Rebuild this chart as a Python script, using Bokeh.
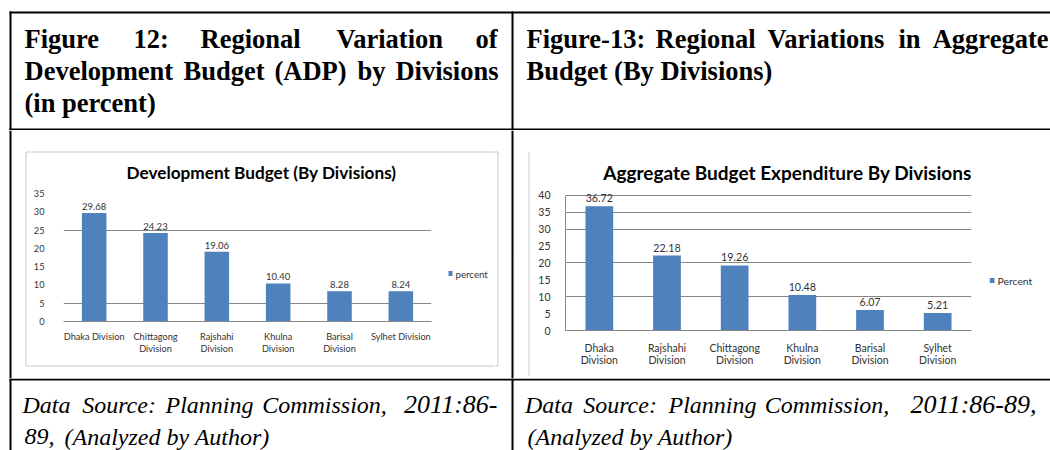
from bokeh.plotting import figure
from bokeh.layouts import row, column
from bokeh.models import Range1d, FactorRange, FixedTicker
from bokeh.core.properties import value
from bokeh.embed import file_html
from bokeh.resources import INLINE

# ---------------- data ----------------
dev_categories = ["Dhaka Division", "Chittagong\nDivision", "Rajshahi\nDivision",
                  "Khulna\nDivision", "Barisal\nDivision", "Sylhet Division"]
dev_percent = [29.68, 24.23, 19.06, 10.40, 8.28, 8.24]
dev_y_ticks = [0, 5, 10, 15, 20, 25, 30, 35]
dev_series = "percent"

agg_categories = ["Dhaka\nDivision", "Rajshahi\nDivision", "Chittagong\nDivision",
                  "Khulna\nDivision", "Barisal\nDivision", "Sylhet\nDivision"]
agg_percent = [36.72, 22.18, 19.26, 10.48, 6.07, 5.21]
agg_y_ticks = [0, 5, 10, 15, 20, 25, 30, 35, 40]
agg_series = "Percent"

# ---------------- style ----------------
BLUE = "#4F81BD"
GRID = "#868686"
FRAME = "#c8c8c8"
INK = "#333333"
SERIF = value("Liberation Serif")
SANS = value("Lato")


def panel(x0, x1, y0, y1, top=0, bottom=0):
    # a blank canvas whose data units are page pixels (frame = y0+top .. y1-bottom)
    p = figure(width=x1 - x0, height=y1 - y0,
               x_range=Range1d(x0, x1), y_range=Range1d(y1 - bottom, y0 + top),
               x_axis_location=None, y_axis_location=None,
               output_backend="svg", toolbar_location=None,
               min_border=0, min_border_top=top, min_border_bottom=bottom,
               outline_line_color=None,
               background_fill_color="white", border_fill_color="white")
    p.grid.visible = False
    return p


def seg(p, coords, color, width):
    x0, y0, x1, y1 = zip(*coords)
    p.segment(x0=list(x0), y0=list(y0), x1=list(x1), y1=list(y1),
              line_color=color, line_width=width)


def words(p, items, y, size, style, align="left"):
    p.text(x=[i[1] for i in items], y=[y] * len(items), text=[i[0] for i in items],
           text_font=SERIF, text_font_size=size, text_font_style=style,
           text_align=align, text_baseline="middle", text_color="black")


# ---------------- header row ----------------
hdr = panel(0, 1050, 0, 130)
seg(hdr, [(9, 12, 1050, 12), (10, 11, 10, 130), (512, 11, 512, 130), (9, 129, 1050, 129)], "black", 2)
HB = "26.5px"
L1, L2, L3 = 38.5, 70.5, 102.5
words(hdr, [("Figure", 24), ("12:", 133), ("Regional", 200), ("Variation", 336)], L1, HB, "bold")
words(hdr, [("of", 497)], L1, HB, "bold", "right")
words(hdr, [("Development", 24), ("Budget", 183), ("(ADP)", 274), ("by", 357)], L2, HB, "bold")
words(hdr, [("Divisions", 498)], L2, HB, "bold", "right")
words(hdr, [("(in percent)", 24)], L3, HB, "bold")
words(hdr, [("Figure-13:", 526), ("Regional", 655), ("Variations", 767), ("in", 898)], L1, HB, "bold")
words(hdr, [("Aggregate", 1048)], L1, HB, "bold", "right")
words(hdr, [("Budget (By Divisions)", 526)], L2, HB, "bold")

# ---------------- footer row ----------------
ftr = panel(0, 1050, 378, 450)
seg(ftr, [(9, 379, 1050, 379), (10, 378, 10, 450), (512, 378, 512, 450)], "black", 2)
FS = "24px"
FN = "26px"
F1, F2 = 404, 436
words(ftr, [("Data", 46), ("Source:", 118.5), ("Planning", 209), ("Commission,", 324)],
      F1, FS, "italic", "center")
words(ftr, [("2011:86-", 497)], F1, FN, "italic", "right")
words(ftr, [("89,", 24), ("(Analyzed by Author)", 64)], F2, FS, "italic")
words(ftr, [("Data", 548.5), ("Source:", 619.5), ("Planning", 712), ("Commission,", 826.5)],
      F1, FS, "italic", "center")
words(ftr, [("2011:86-89,", 973)], F1, FN, "italic", "center")
words(ftr, [("(Analyzed by Author)", 527)], F2, FS, "italic")

# ---------------- chart row: strips ----------------
b1 = panel(0, 30, 130, 378)
seg(b1, [(10, 130, 10, 378)], "black", 2)
seg(b1, [(25.5, 151.5, 25.5, 365.5), (25.5, 151.5, 30, 151.5), (25.5, 365.5, 30, 365.5)], FRAME, 1)

b3 = panel(495, 535, 130, 378)
seg(b3, [(495, 151.5, 497.5, 151.5), (495, 365.5, 497.5, 365.5), (497.5, 151.5, 497.5, 365.5),
         (528.5, 152, 528.5, 375)], FRAME, 1)
seg(b3, [(512, 130, 512, 378)], "black", 2)

# ---------------- chart 1 ----------------
title1 = panel(30, 495, 130, 186)
seg(title1, [(30, 151.5, 495, 151.5)], FRAME, 1)
title1.text(x=[261], y=[172], text=["Development Budget (By Divisions)"], text_font=SANS,
            text_font_size="17.2px", text_font_style="bold", text_align="center",
            text_baseline="middle", text_color="black")

bot1 = panel(30, 495, 362, 378)
seg(bot1, [(30, 365.5, 495, 365.5)], FRAME, 1)


def style_chart(p, y_ticks, grid_ticks, tick_size, standoff_y, standoff_x, line_h, show_y_line):
    p.xgrid.visible = False
    p.ygrid.ticker = FixedTicker(ticks=grid_ticks)
    p.ygrid.grid_line_color = GRID
    p.ygrid.grid_line_width = 1
    p.yaxis.ticker = FixedTicker(ticks=y_ticks)
    p.yaxis.major_tick_line_color = None
    p.yaxis.minor_tick_line_color = None
    p.yaxis.axis_line_color = GRID if show_y_line else None
    p.yaxis.major_label_standoff = standoff_y
    p.xaxis.axis_line_color = GRID
    p.xaxis.major_tick_line_color = None
    p.xaxis.major_label_standoff = standoff_x
    p.xaxis.major_label_text_line_height = line_h
    for ax in (p.xaxis, p.yaxis):
        ax.major_label_text_font = "Lato"
        ax.major_label_text_font_size = tick_size
        ax.major_label_text_color = INK


def legend_key(p, sx, sy, size, label, font_size):
    # legend key: a small square swatch with the series name beside it
    p.rect(x=[sx + size / 2], y=[sy], width=size, height=size, fill_color=BLUE, line_color=None)
    p.text(x=[sx + size + 3], y=[sy], text=[label], text_font=SANS, text_font_size=font_size,
           text_align="left", text_baseline="middle", text_color=INK)


c1 = figure(width=418, height=176, x_range=FactorRange(factors=dev_categories),
            y_range=Range1d(0, 35), output_backend="svg", toolbar_location=None,
            min_border_left=26, min_border_right=17, min_border_top=7, min_border_bottom=41,
            outline_line_color=None, background_fill_color="white", border_fill_color="white")
c1.vbar(x=dev_categories, top=dev_percent, width=0.4, fill_color=BLUE, line_color=None)
c1.text(x=dev_categories, y=dev_percent, text=[f"{v:.2f}" for v in dev_percent],
        text_font=SANS, text_font_size="9.5px", text_align="center", text_baseline="bottom",
        y_offset=-3, text_color=INK)
style_chart(c1, dev_y_ticks, [5, 25], "9.2px", 13, 3, 1.15, False)

# frame of the legend canvas is aligned with the chart frame by the row layout
lg1 = panel(448, 495, 186, 362, top=7, bottom=41)
legend_key(lg1, 447, 273, 5, dev_series, "9.7px")

# ---------------- chart 2 ----------------
title2 = panel(535, 1050, 130, 186)
title2.text(x=[787], y=[172], text=["Aggregate Budget Expenditure By Divisions"], text_font=SANS,
            text_font_size="19px", text_font_style="bold", text_align="center",
            text_baseline="middle", text_color="black")

c2 = figure(width=454, height=192, x_range=FactorRange(factors=agg_categories),
            y_range=Range1d(0, 42), output_backend="svg", toolbar_location=None,
            min_border_left=29, min_border_right=18, min_border_top=2, min_border_bottom=48,
            outline_line_color=None, background_fill_color="white", border_fill_color="white")
c2.vbar(x=agg_categories, top=agg_percent, width=0.41, fill_color=BLUE, line_color=None)
c2.text(x=agg_categories, y=agg_percent, text=[f"{v:.2f}" for v in agg_percent],
        text_font=SANS, text_font_size="10.7px", text_align="center", text_baseline="bottom",
        y_offset=-4, text_color=INK)
style_chart(c2, agg_y_ticks, [10, 20, 30, 35, 40], "10.5px", 9, 5, 1.05, True)
c2.yaxis.bounds = (0, 40)

lg2 = panel(989, 1050, 186, 378, top=2, bottom=48)
legend_key(lg2, 989, 280, 5, agg_series, "10.4px")

# ---------------- layout ----------------
chart1_col = column(title1, row(c1, lg1), bot1)
chart2_col = column(title2, row(c2, lg2))
mid = row(b1, chart1_col, b3, chart2_col)
page = column(hdr, mid, ftr)

open("out.html", "w").write(file_html(page, INLINE, title="Regional budget variation"))
